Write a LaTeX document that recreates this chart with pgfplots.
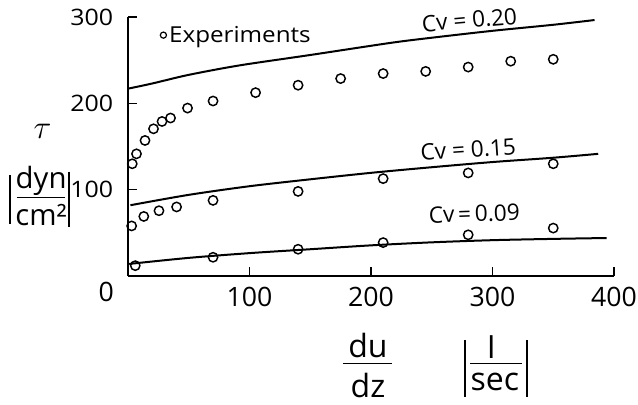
\documentclass[border=0pt]{standalone}
\usepackage{pgfplots}
\pgfplotsset{compat=1.18}
\usepackage{fontspec}
\setmainfont{Open Sans}
\newfontfamily\wide[FakeStretch=1.1]{Open Sans}

\newcommand{\ylab}{\wide\fontsize{17}{20}\selectfont}
\newcommand{\xlab}{\fontsize{20}{24}\selectfont}
\newcommand{\leglab}{\wide\fontsize{16.5}{19}\selectfont}
\newcommand{\cvlab}{\fontsize{17}{20}\selectfont}
\newcommand{\biglab}{\fontsize{22}{26}\selectfont}

\begin{document}
\begin{tikzpicture}
\useasboundingbox (-96pt,-96pt) rectangle (382.5pt,207pt);
\begin{axis}[
  scale only axis, width=364.5pt, height=194.25pt,
  xmin=0, xmax=400, ymin=0, ymax=300,
  axis lines=left, axis line style={-, line width=2.2pt},
  xtick={100,200,300,400}, ytick={100,200,300},
  tick align=inside, major tick length=7pt,
  tick style={line width=1pt, black},
  /pgf/number format/assume math mode=true,
  xticklabel style={font=\xlab, anchor=base, inner sep=0pt, yshift=-23pt},
  yticklabel style={font=\ylab, anchor=east, inner sep=0pt, xshift=-11pt},
  clip=false,
  legend style={draw=none, fill=none, at={(0.066,0.93)}, anchor=west,
                inner sep=0pt, nodes={font=\leglab}},
  legend cell align=left,
  legend image code/.code={\draw[#1, mark size=2.3pt, mark options={line width=0.9pt}] plot coordinates {(0.08cm,0cm)};},
]
% experiments
\addplot[only marks, mark=o, mark size=3.5pt, mark options={line width=1.1pt}]
  coordinates {(3.5,130) (7,141.5) (14,157) (21,170.5) (28,179) (35,183)
  (49,194.5) (70,202.7) (105,212.4) (140,221) (175,228.7) (210,234.5)
  (245,237) (280,242) (315,248.8) (350,251)};
\addlegendentry{\leglab Experiments}
\addplot[only marks, mark=o, mark size=3.5pt, mark options={line width=1.1pt}, forget plot]
  coordinates {(3,58) (13,69) (25.5,75.6) (40,80) (70,87.6) (140,98)
  (210,112.8) (280,119.4) (350,130)};
\addplot[only marks, mark=o, mark size=3.5pt, mark options={line width=1.1pt}, forget plot]
  coordinates {(6,12) (70,21.7) (140,31) (210,38.7) (280,47.7) (350,55.5)};
% model curves
\addplot[smooth, line width=1.5pt, forget plot] coordinates
  {(0,217) (20,223) (50,233) (92,244) (150,256) (216,270) (250,276)
   (300,284) (350,291) (384,296.5)};
\addplot[smooth, line width=1.5pt, forget plot] coordinates
  {(2,82) (50,94) (100,104) (150,112) (200,119.5) (250,126) (300,132)
   (350,137) (387,141.5)};
\addplot[smooth, line width=1.5pt, forget plot] coordinates
  {(1,14) (50,21) (100,26.5) (150,31) (200,35.5) (250,39) (300,41.5)
   (350,43) (394,44)};

\node[font=\cvlab, rotate=5] at (axis cs:281,296.5) {Cv = 0.20};
\node[font=\cvlab, rotate=4] at (axis cs:280,146.5) {Cv = 0.15};
\node[font=\cvlab, rotate=2] at (axis cs:285,72) {Cv\,=\,0.09};

\node[font=\xlab, anchor=base, inner sep=0pt] at (axis cs:-18,-30) {0};

% y label
\node[inner sep=0pt] at (axis cs:-70.4,167.4) {\fontsize{28}{30}\selectfont$\tau$};
\node[font=\biglab, anchor=base, inner sep=0pt] at (axis cs:-71.5,101) {dyn};
\node[font=\biglab, anchor=base, inner sep=0pt] at (axis cs:-71.5,58) {cm²};
\draw[line width=1pt] (axis cs:-91.4,90.7) -- (axis cs:-51.9,90.7);
\draw[line width=1pt] (axis cs:-97,117) -- (axis cs:-97,60);
\draw[line width=1pt] (axis cs:-48.6,121) -- (axis cs:-48.6,57);

% x label
\node[font=\fontsize{24}{28}\selectfont, anchor=base, inner sep=0pt] at (axis cs:197.5,-94.2) {du};
\node[font=\fontsize{24}{28}\selectfont, anchor=base, inner sep=0pt] at (axis cs:197.5,-140.7) {dz};
\draw[line width=1pt] (axis cs:177,-101.7) -- (axis cs:217,-101.7);
\node[font=\fontsize{24}{28}\selectfont, anchor=base, inner sep=0pt] at (axis cs:299,-95.3) {I};
\node[font=\fontsize{24}{28}\selectfont, anchor=base, inner sep=0pt] at (axis cs:302,-132.6) {sec};
\draw[line width=1pt] (axis cs:281.5,-101) -- (axis cs:324.3,-101);
\draw[line width=1pt] (axis cs:277.4,-74.4) -- (axis cs:277.4,-140.7);
\draw[line width=1pt] (axis cs:328.4,-74.4) -- (axis cs:328.4,-140.7);
\end{axis}
\end{tikzpicture}
\end{document}
